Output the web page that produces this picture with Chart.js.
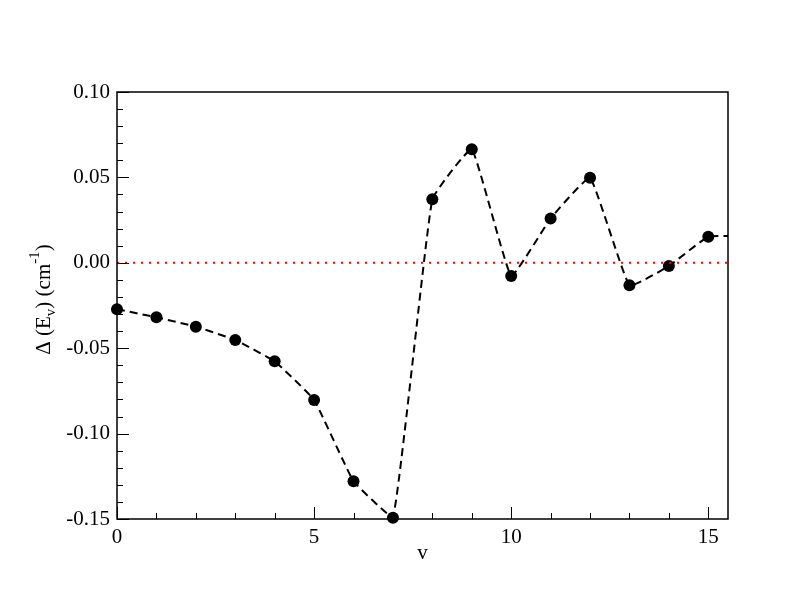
<!DOCTYPE html>
<html>
<head>
<meta charset="utf-8">
<script src="https://cdn.jsdelivr.net/npm/chart.js@4.4.1/dist/chart.umd.min.js"></script>
<style>
  html, body { margin: 0; padding: 0; background: #fff; }
  #wrap { width: 792px; height: 612px; }
</style>
</head>
<body>
<div id="wrap"><canvas id="chart" width="792" height="612"></canvas></div>
<script>
// Data
const vLevels = [0, 1, 2, 3, 4, 5, 6, 7, 8, 9, 10, 11, 12, 13, 14, 15, 16];
const deltaE = [-0.0272, -0.0319, -0.0374, -0.0452, -0.0577, -0.0803, -0.1279, -0.1492,
  0.0372, 0.0665, -0.0077, 0.0260, 0.0498, -0.0132, -0.0019, 0.0153, 0.0155];
const refX = [0, 15.5];
const refY = [0, 0];

// Axis ticks
const xTicks = [0, 5, 10, 15];
const yTicks = [-0.15, -0.10, -0.05, 0.00, 0.05, 0.10];
const xMinorStep = 1;
const yMinorStep = 0.01;

const FONT = '"Liberation Serif", "Times New Roman", serif';

// Frame, inward ticks and axis titles (xmgrace style)
const framePlugin = {
  id: "frame",
  afterDraw(chart) {
    const { ctx, chartArea: a, scales } = chart;
    const xs = scales.x, ys = scales.y;
    ctx.save();
    ctx.strokeStyle = "#000";
    ctx.lineWidth = 1.5;
    ctx.strokeRect(a.left, a.top, a.right - a.left, a.bottom - a.top);

    ctx.lineWidth = 1;
    ctx.beginPath();
    // x ticks on bottom
    for (let v = xs.min; v <= xs.max + 1e-9; v += xMinorStep) {
      const px = Math.round(xs.getPixelForValue(v)) + 0.5;
      const major = xTicks.includes(Math.round(v * 100) / 100);
      ctx.moveTo(px, a.bottom);
      ctx.lineTo(px, a.bottom - (major ? 12 : 6));
    }
    // y ticks on left
    for (let i = 0; ; i++) {
      const v = ys.min + i * yMinorStep;
      if (v > ys.max + 1e-9) break;
      const py = Math.round(ys.getPixelForValue(v)) + 0.5;
      const major = i % 5 === 0;
      ctx.moveTo(a.left, py);
      ctx.lineTo(a.left + (major ? 12 : 6), py);
    }
    ctx.stroke();

    // x title
    ctx.fillStyle = "#000";
    ctx.font = "21px " + FONT;
    ctx.textAlign = "center";
    ctx.textBaseline = "middle";
    ctx.fillText("v", (a.left + a.right) / 2, 553);

    // y title: Δ (E_v) (cm^-1)
    const big = "21px " + FONT, small = "15px " + FONT;
    const parts = [
      { t: "\u0394 (E", f: big, dy: 0 },
      { t: "v", f: small, dy: 5 },
      { t: ") (cm", f: big, dy: 0 },
      { t: "-1", f: small, dy: -11 },
      { t: ")", f: big, dy: 0 },
    ];
    let total = 0;
    parts.forEach((p) => { ctx.font = p.f; p.w = ctx.measureText(p.t).width; total += p.w; });
    ctx.translate(50, (a.top + a.bottom) / 2 - 6);
    ctx.rotate(-Math.PI / 2);
    ctx.textAlign = "left";
    ctx.textBaseline = "alphabetic";
    let x = -total / 2;
    parts.forEach((p) => { ctx.font = p.f; ctx.fillText(p.t, x, p.dy); x += p.w; });
    ctx.restore();
  },
};

const bgPlugin = {
  id: "bg",
  beforeDraw(chart) {
    const ctx = chart.ctx;
    ctx.save();
    ctx.fillStyle = "#fff";
    ctx.fillRect(0, 0, chart.width, chart.height);
    ctx.restore();
  },
};

new Chart(document.getElementById("chart"), {
  type: "line",
  data: {
    datasets: [
      {
        label: "zero",
        data: refX.map((x, i) => ({ x: x, y: refY[i] })),
        borderColor: "#ff0000",
        borderWidth: 2,
        borderDash: [2, 6],
        pointRadius: 0,
        tension: 0,
        order: 0,
      },
      {
        label: "delta",
        data: vLevels.map((v, i) => ({ x: v, y: deltaE[i] })),
        borderColor: "#000",
        borderWidth: 2,
        borderDash: [8, 5],
        backgroundColor: "#000",
        pointRadius: 6,
        pointBorderWidth: 0,
        pointBackgroundColor: "#000",
        tension: 0.1,
        clip: { left: 8, top: 8, bottom: 8, right: 0 },
        order: 1,
      },
    ],
  },
  options: {
    responsive: false,
    animation: false,
    layout: { padding: { left: 0, top: 92, right: 64, bottom: 0 } },
    plugins: { legend: { display: false }, tooltip: { enabled: false } },
    scales: {
      x: {
        type: "linear",
        min: 0,
        max: 15.5,
        grid: { display: false, drawTicks: false },
        border: { display: false },
        afterFit(scale) { scale.height = 93; },
        afterBuildTicks(scale) { scale.ticks = xTicks.map((v) => ({ value: v })); },
        ticks: {
          padding: 6,
          color: "#000",
          font: { family: FONT, size: 21 },
          callback: (v) => String(v),
        },
      },
      y: {
        type: "linear",
        min: -0.15,
        max: 0.10,
        grid: { display: false, drawTicks: false },
        border: { display: false },
        afterFit(scale) { scale.width = 117; },
        afterBuildTicks(scale) { scale.ticks = yTicks.map((v) => ({ value: v })); },
        ticks: {
          padding: 7,
          color: "#000",
          font: { family: FONT, size: 21 },
          callback: (v) => Number(v).toFixed(2),
        },
      },
    },
  },
  plugins: [bgPlugin, framePlugin],
});
</script>
</body>
</html>
